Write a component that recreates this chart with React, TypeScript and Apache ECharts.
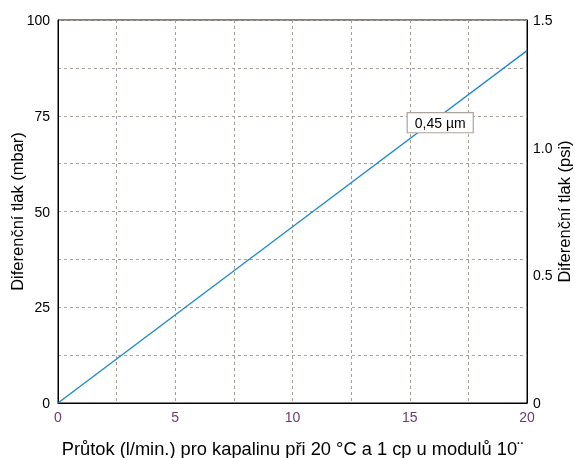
import React, { useEffect, useRef } from "react";
import * as echarts from "echarts";

const flowX = [0, 20];
const pressureMbar = [0, 92];
const labelPoint = [16.3, 73.2];
const labelText = "0,45 µm";
const xTickLabels = [0, 5, 10, 15, 20];
const leftTickLabels = [0, 25, 50, 75, 100];
const rightTickLabels = ["0", "0.5", "1.0", "1.5"];

export default function App() {
  const ref = useRef<HTMLDivElement>(null);
  useEffect(() => {
    if (!ref.current) return;
    const chart = echarts.init(ref.current, null, { renderer: "svg" });
    const font = "Liberation Sans, Arial, sans-serif";
    const gridLine = { show: true, lineStyle: { color: "#a59f96", type: [3, 3] as any, width: 1 } };
    chart.setOption({
      animation: false,
      textStyle: { fontFamily: font },
      grid: {
        left: 58,
        right: 48,
        top: 20,
        bottom: 55,
        show: true,
        borderColor: "#000",
        borderWidth: 1,
        outerBoundsMode: "none",
        containLabel: false,
      },
      xAxis: {
        type: "value",
        min: 0,
        max: 20,
        interval: 2.5,
        name: "Průtok (l/min.) pro kapalinu při 20 °C a 1 cp u modulů 10¨",
        nameLocation: "middle",
        nameGap: 36,
        nameMoveOverlap: false,
        nameTextStyle: { fontSize: 18.3, color: "#000", fontFamily: font },
        axisLine: { show: true, lineStyle: { color: "#000" } },
        axisTick: { show: false },
        axisLabel: {
          color: "#6e3a6e",
          fontSize: 14,
          margin: 7,
          fontFamily: font,
          formatter: (v: number) => (xTickLabels.includes(v) ? String(v) : ""),
        },
        splitLine: gridLine,
      },
      yAxis: [
        {
          type: "value",
          min: 0,
          max: 100,
          interval: 12.5,
          name: "Diferenční tlak (mbar)",
          nameLocation: "middle",
          nameGap: 33,
          nameMoveOverlap: false,
          nameTextStyle: { fontSize: 16.5, color: "#000", fontFamily: font },
          axisLine: { show: true, lineStyle: { color: "#000" } },
          axisTick: { show: false },
          axisLabel: {
            color: "#000",
            fontSize: 14,
            margin: 8,
            fontFamily: font,
            formatter: (v: number) => (leftTickLabels.includes(v) ? String(v) : ""),
          },
          splitLine: gridLine,
        },
        {
          type: "value",
          min: 0,
          max: 1.5,
          interval: 0.5,
          position: "right",
          name: "Diferenční tlak (psi)",
          nameLocation: "middle",
          nameGap: 28,
          nameMoveOverlap: false,
          nameRotate: 90,
          nameTextStyle: { fontSize: 16.5, color: "#000", fontFamily: font },
          axisLine: { show: true, lineStyle: { color: "#000" } },
          axisTick: { show: false },
          axisLabel: {
            color: "#000",
            fontSize: 14,
            margin: 6,
            fontFamily: font,
            formatter: (_v: number, i: number) => rightTickLabels[i] ?? "",
          },
          splitLine: { show: false },
        },
      ],
      series: [
        {
          type: "line",
          data: flowX.map((x, i) => [x, pressureMbar[i]]),
          symbol: "none",
          lineStyle: { color: "#1b86c9", width: 1.3 },
          markPoint: {
            symbol: "rect",
            symbolSize: 0.1,
            itemStyle: { color: "transparent" },
            data: [
              {
                coord: labelPoint,
                label: {
                  show: true,
                  position: "inside",
                  formatter: labelText,
                  color: "#000",
                  fontSize: 14,
                  fontFamily: font,
                  backgroundColor: "#fff",
                  borderColor: "#aaa49b",
                  borderWidth: 1.2,
                  padding: [3, 7, 2, 7],
                },
              },
            ],
          },
        },
      ],
    });
    return () => chart.dispose();
  }, []);
  return <div ref={ref} style={{ position: "fixed", left: 0, top: 0, width: 575, height: 458 }} />;
}
